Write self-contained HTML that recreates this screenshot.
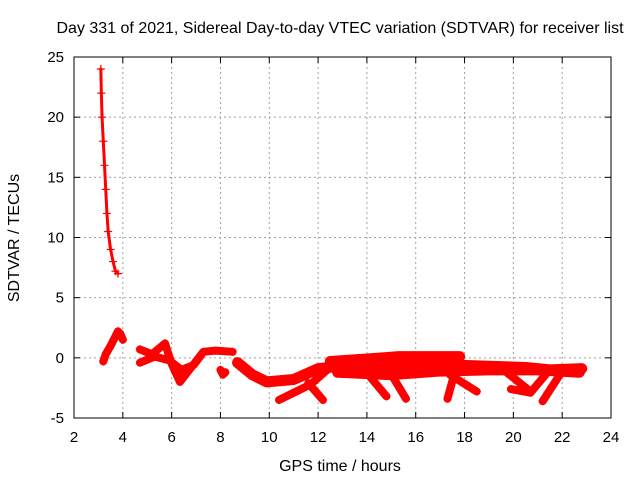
<!DOCTYPE html>
<html><head><meta charset="utf-8"><style>
body{margin:0;background:#fff}
svg{display:block;font-family:"Liberation Sans",sans-serif}
</style></head><body>
<svg id="c" width="640" height="480" xmlns="http://www.w3.org/2000/svg">
<text x="340" y="33" font-size="16" text-anchor="middle">Day 331 of 2021, Sidereal Day-to-day VTEC variation (SDTVAR) for receiver list</text>
<text x="340" y="471" font-size="16" text-anchor="middle">GPS time / hours</text>
<text transform="translate(19,238) rotate(-90)" font-size="16" text-anchor="middle">SDTVAR / TECUs</text>
<g id="grid"></g><g id="data"></g><g id="axes"></g>
</svg>
<script>
const xTicks=[2,4,6,8,10,12,14,16,18,20,22,24];
const yTicks=[-5,0,5,10,15,20,25];
const trackDescent=[[3.1,24],[3.12,22],[3.15,20],[3.2,18],[3.25,16],[3.3,14],[3.35,12],[3.4,10.5],[3.5,9],[3.6,8],[3.7,7.2],[3.8,7]];
const trackEarly=[[3.2,-0.3],[3.3,0.3],[3.5,1],[3.7,1.8],[3.8,2.2],[3.9,2],[4.0,1.5]];
const trackA=[[4.7,0.7],[5.2,0.3],[5.73,1.2],[6.0,-0.5],[6.34,-2.0],[6.8,-0.8],[7.3,0.5],[7.8,0.6],[8.5,0.5]];
const trackB=[[4.7,-0.4],[5.3,0.1],[5.9,-0.2],[6.4,-1.0],[6.9,-0.6],[7.2,0.2]];
const trackC=[[8.0,-1.0],[8.1,-1.4],[8.2,-1.2]];
const trackD=[[8.7,-0.4],[9.3,-1.4],[9.9,-2.0],[11,-1.8],[12,-0.9],[13.3,-0.6],[14.5,-0.7],[16,-0.8],[17.5,-0.6],[19,-0.7],[20.5,-0.8],[21.5,-1.0],[22.8,-0.9]];
const trackE=[[12.5,-0.3],[14,-0.1],[15.3,0.1],[17.8,0.1]];
const trackF=[[12.8,-1.2],[15,-1.4],[17,-1.1],[19,-1.0],[21,-1.0],[22.7,-1.2]];
const trackG=[[10.4,-3.5],[11.0,-2.9],[11.7,-2.2],[12.2,-1.3],[12.6,-0.6]];
const trackH=[[11.6,-2.1],[12.2,-3.5]];
const trackI=[[13.85,-0.9],[14.8,-3.2]];
const trackJ=[[14.8,-0.7],[15.6,-3.4]];
const trackK=[[17.4,-1.4],[18.5,-2.8]];
const trackL=[[17.6,-1.2],[17.3,-3.4]];
const trackM=[[19.6,-1.0],[20.7,-2.8]];
const trackN=[[19.9,-2.6],[20.7,-2.9],[21.4,-1.2]];
const trackO=[[22.0,-1.1],[21.2,-3.6]];
const tracks=[trackDescent,trackEarly,trackA,trackB,trackC,trackD,trackE,trackF,trackG,trackH,trackI,trackJ,trackK,trackL,trackM,trackN,trackO];
const L=74,R=611,T=57,B=418;
const xs=v=>L+(v-2)/(24-2)*(R-L);
const ys=v=>B-(v+5)/30*(B-T);
const NS="http://www.w3.org/2000/svg";
function mk(tag,attrs,parent){const e=document.createElementNS(NS,tag);for(const k in attrs)e.setAttribute(k,attrs[k]);parent.appendChild(e);return e;}
const grid=document.getElementById('grid'),axes=document.getElementById('axes'),data=document.getElementById('data');
xTicks.forEach(t=>{const x=xs(t);
 if(t>2&&t<24){const g=mk('line',{x1:x,x2:x,y1:T,y2:B,stroke:'#a0a0a0','stroke-dasharray':'2,3'},grid);
 
 }
 mk('line',{x1:x,x2:x,y1:B,y2:B-6,stroke:'#000'},axes);
 mk('line',{x1:x,x2:x,y1:T,y2:T+6,stroke:'#000'},axes);
 const tx=mk('text',{x:x,y:B+24,'font-size':15,'text-anchor':'middle'},axes);tx.textContent=t;
 
 
});
yTicks.forEach(t=>{const y=ys(t);
 if(t>-5&&t<25){const g=mk('line',{x1:L,x2:R,y1:y,y2:y,stroke:'#a0a0a0','stroke-dasharray':'2,3'},grid);
 
 }
 mk('line',{x1:L,x2:L+6,y1:y,y2:y,stroke:'#000'},axes);
 mk('line',{x1:R,x2:R-6,y1:y,y2:y,stroke:'#000'},axes);
 const tx=mk('text',{x:L-10,y:y+5,'font-size':15,'text-anchor':'end'},axes);tx.textContent=t;
 
 
});
const frame=mk('rect',{x:L,y:T,width:R-L,height:B-T,fill:'none',stroke:'#000'},axes);


tracks.forEach((tr,i)=>{
 const pts=tr.map(p=>xs(p[0])+','+ys(p[1])).join(' ');
 const w=i===0?3:(i>=5&&i<=7?11:8);
 const pl=mk('polyline',{points:pts,fill:'none',stroke:'#f00','stroke-width':w,'stroke-linejoin':'round','stroke-linecap':'round'},data);
 
 
 tr.forEach(p=>{const x=xs(p[0]),y=ys(p[1]);
  const m=mk('path',{d:`M${x-4},${y}H${x+4}M${x},${y-4}V${y+4}`,stroke:'#f00','stroke-width':1.2},data);
  
  
 });
});
</script>
</body></html>
